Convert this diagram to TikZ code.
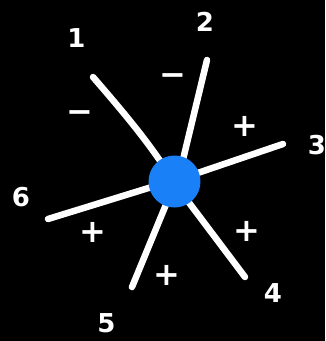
\documentclass[tikz,border=0pt]{standalone}
\usepackage{fontspec}
\setmainfont{DejaVu Sans}
\begin{document}
\begin{tikzpicture}[x=1pt,y=-1pt,
  spoke/.style={draw=white,line width=6.5pt,line cap=round},
  hub/.style={circle,fill=hubblue,minimum size=52pt,inner sep=0pt},
  num/.style={text=white,font=\bfseries\fontsize{26}{26}\selectfont,inner sep=0pt},
  sgn/.style={text=white,font=\bfseries\fontsize{32}{32}\selectfont,inner sep=0pt}]
\definecolor{hubblue}{HTML}{1A80F8}
\fill[black] (0,0) rectangle (325,341);
\useasboundingbox (0,0) rectangle (325,341);
\coordinate (o) at (174.5,181.5);
\coordinate (e1) at (93,77);
\coordinate (i1) at (165,168);
\coordinate (e2) at (207,60);
\coordinate (i2) at (180,172);
\coordinate (e3) at (283,144);
\coordinate (i3) at (180,179);
\coordinate (e4) at (245,277);
\coordinate (i4) at (178,188);
\coordinate (e5) at (132,287);
\coordinate (i5) at (172,190);
\coordinate (e6) at (48,219);
\coordinate (i6) at (168,182);
\draw[spoke] (e1) .. controls (118,106) and (143,135) .. (i1);
\draw[spoke] (e2) -- (i2);
\draw[spoke] (e3) -- (i3);
\draw[spoke] (e4) -- (i4);
\draw[spoke] (e5) -- (i5);
\draw[spoke] (e6) -- (i6);
\node[hub] (c) at (o) {};
\node[num] (n1) at (76.5,38.5) {1};
\node[num] (n2) at (205,22) {2};
\node[num] (n3) at (317,145) {3};
\node[num] (n4) at (273,293) {4};
\node[num] (n5) at (106.5,323) {5};
\node[num] (n6) at (21,197) {6};
\node[sgn] (m1) at (80,117) {−};
\node[sgn] (m2) at (173,80) {−};
\node[sgn] (p1) at (245,126.5) {+};
\node[sgn] (p2) at (93,232.5) {+};
\node[sgn] (p3) at (247,231.5) {+};
\node[sgn] (p4) at (167,275) {+};
\end{tikzpicture}
\end{document}
